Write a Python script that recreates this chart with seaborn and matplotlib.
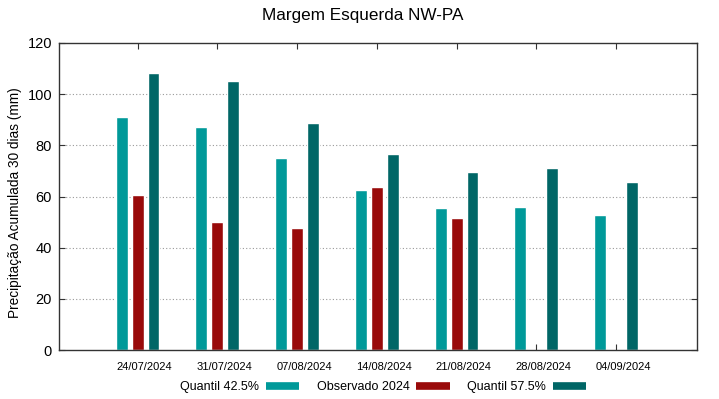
import numpy as np
import pandas as pd
import matplotlib
matplotlib.use("Agg")
import matplotlib.pyplot as plt
from matplotlib.lines import Line2D
import seaborn as sns

dates = ["24/07/2024", "31/07/2024", "07/08/2024", "14/08/2024",
         "21/08/2024", "28/08/2024", "04/09/2024"]
q425 = [91.1, 87.2, 75.1, 62.5, 55.5, 55.9, 52.8]
obs2024 = [60.6, 50.0, 47.7, 63.7, 51.6, np.nan, np.nan]
q575 = [108.3, 105.2, 88.7, 76.6, 69.6, 71.1, 65.7]
series = ["Quantil 42.5%", "Observado 2024", "Quantil 57.5%"]
colors = ["#009999", "#990a0a", "#006666"]
yticks = [0, 20, 40, 60, 80, 100, 120]

rows = []
for name, vals in zip(series, [q425, obs2024, q575]):
    for d, v in zip(dates, vals):
        rows.append({"data": d, "serie": name, "valor": v})
df = pd.DataFrame(rows)

sns.set_theme(style="white")
plt.rcParams["font.family"] = ["Liberation Sans", "DejaVu Sans"]
plt.rcParams["text.color"] = "black"
plt.rcParams["axes.labelcolor"] = "black"

fig = plt.figure(figsize=(7.19, 3.99), dpi=100)
ax = fig.add_axes([59/719, 1-350/399, (697-59)/719, (350-43)/399])

sns.barplot(data=df, x="data", y="valor", hue="serie", order=dates,
            hue_order=series, palette=colors, width=0.6, gap=0.25,
            ax=ax, legend=False, saturation=1, errorbar=None)

ax.set_xlim(-0.985, 7.015)
ax.set_ylim(0, 120)
ax.set_yticks(yticks)
ax.set_yticklabels([str(t) for t in yticks], fontsize=10.5)
ax.set_xlabel("")
ax.set_ylabel("Precipitação Acumulada 30 dias (mm)", fontsize=9.8)
ax.yaxis.set_label_coords(-0.058, 0.479)

pos = np.arange(len(dates))
ax.set_xticks(pos)
ax.set_xticklabels([])
ax.set_xticks(pos + 0.088, minor=True)
ax.set_xticklabels(dates, minor=True, fontsize=8)

ax.tick_params(axis="both", which="major", direction="in", length=4, width=0.8,
               top=True, right=True, bottom=True, left=True, colors="#333333",
               labelcolor="black")
ax.tick_params(axis="x", which="minor", length=0, pad=9, bottom=True, top=False,
               labelcolor="black")
ax.tick_params(axis="y", pad=5)
for s in ax.spines.values():
    s.set_visible(True)
    s.set_color("#333333")
    s.set_linewidth(1.0)

for t in yticks[1:-1]:
    ax.axhline(t, color="#999999", linestyle=(0, (1, 2)), linewidth=0.8, zorder=0)
ax.set_axisbelow(True)

fig.suptitle("Margem Esquerda NW-PA", fontsize=12.3, x=363/719, y=1-8/399, va="top")

handles = [Line2D([0], [0], color=c, lw=5.5, solid_capstyle="butt") for c in colors]
fig.legend(handles, series, loc="center", bbox_to_anchor=(383/719, 1-387/399),
           ncol=3, frameon=False, markerfirst=False, fontsize=9,
           handlelength=2.65, columnspacing=1.4, handletextpad=0.55)

fig.savefig("out.png", dpi=100)
